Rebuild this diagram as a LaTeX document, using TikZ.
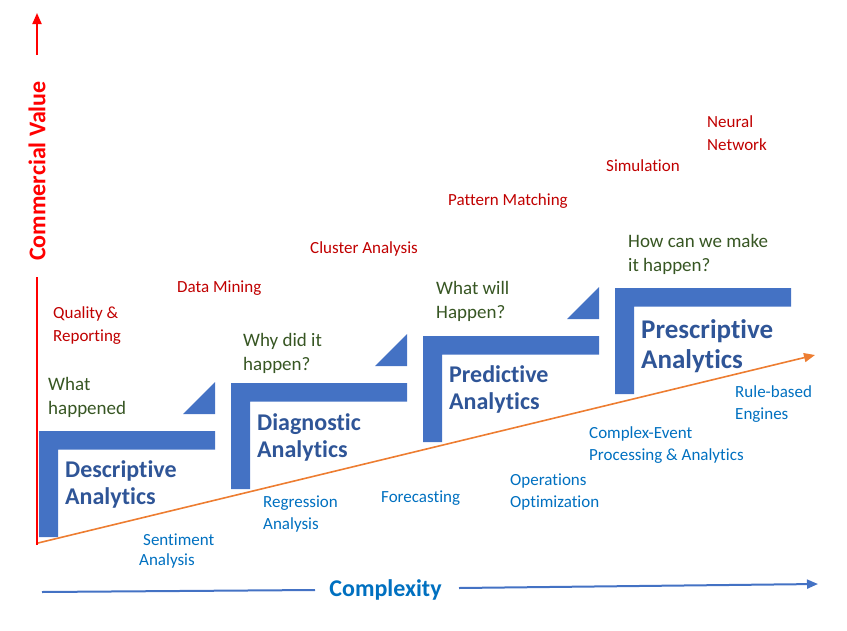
\documentclass[tikz,border=0pt]{standalone}
\usepackage{fontspec}
\setmainfont{Carlito}[Ligatures={NoCommon,NoRequired,NoContextual}]
\usetikzlibrary{arrows.meta}
\definecolor{barblue}{HTML}{4472C4}
\definecolor{titleblue}{HTML}{2F5597}
\definecolor{lblblue}{HTML}{0070C0}
\definecolor{redtxt}{HTML}{C00000}
\definecolor{greentxt}{HTML}{375623}
\definecolor{orangeln}{HTML}{ED7D31}
\definecolor{axisred}{HTML}{FF0000}
\tikzset{
  txt/.style={inner sep=0pt, anchor=west, align=left},
  question/.style={txt, text=greentxt, font=\fontsize{19}{24}\selectfont},
  title/.style={txt, text=titleblue, font=\fontsize{24}{27}\selectfont\bfseries},
  bigtitle/.style={txt, text=titleblue, font=\fontsize{27}{30}\selectfont\bfseries},
  redlbl/.style={txt, text=redtxt, font=\fontsize{17}{23}\selectfont},
  bluelbl/.style={txt, text=lblblue, font=\fontsize{17}{22}\selectfont},
  stepfill/.style={fill=barblue, draw=none},
  redaxis/.style={draw=axisred, line width=2pt},
  blueaxis/.style={draw=barblue, line width=2pt},
}
\begin{document}
\begin{tikzpicture}[x=1pt,y=-1pt]
\useasboundingbox (0,0) rectangle (847,630);
% steps
\foreach \ox/\oy in {39/431, 231/383, 423/336, 615/288}{
  \fill[stepfill] (\ox,\oy) -- ++(176,0) -- ++(0,18.5) -- ++(-157,0) -- ++(0,87.5) -- ++(-19,0) -- cycle;
}
\foreach \ox/\oy in {39/431, 231/383, 423/336}{
  \fill[stepfill] (\ox+144,\oy-17) -- (\ox+176,\oy-17) -- (\ox+176,\oy-49) -- cycle;
}
% orange trend
\coordinate (o1) at (38,543);
\coordinate (o2) at (815,355);
\draw[draw=orangeln, line width=1.6pt, -{Triangle[length=11pt,width=9pt]}] (o1) -- (o2);
% red axis
\coordinate (r1) at (36.5,545);
\coordinate (r2) at (36.5,277);
\coordinate (r3) at (37,55);
\coordinate (r4) at (37,13);
\draw[redaxis] (r1) -- (r2);
\draw[redaxis, -{Triangle[length=11pt,width=9pt]}] (r3) -- (r4);
\node[rotate=90, inner sep=0pt, text=axisred, font=\fontsize{24}{28}\selectfont\bfseries] (cv) at (37,171) {Commercial Value};
% blue axis
\coordinate (b1) at (42,592);
\coordinate (b2) at (315,590);
\coordinate (b3) at (459,588);
\coordinate (b4) at (818,584);
\draw[blueaxis] (b1) -- (b2);
\draw[blueaxis, -{Triangle[length=11pt,width=9pt]}] (b3) -- (b4);
\node[inner sep=0pt, text=lblblue, font=\fontsize{24}{27}\selectfont\bfseries] (cx) at (385.5,589.5) {Complexity};
% questions
\node[question] (q1) at (48,397) {What\\happened};
\node[question] (q2) at (243,353) {Why did it\\happen?};
\node[question] (q3) at (436,301) {What will\\Happen?};
\node[question] (q4) at (628,254) {How can we make\\it happen?};
% titles
\node[title] (t1) at (65,484) {Descriptive\\Analytics};
\node[title] (t2) at (257,437) {Diagnostic\\Analytics};
\node[title] (t3) at (449,389) {Predictive\\Analytics};
\node[bigtitle] (t4) at (641,346) {Prescriptive\\Analytics};
% red labels
\node[redlbl] (l1) at (53,326) {Quality \&\\Reporting};
\node[redlbl] (l2) at (177,288.5) {Data Mining};
\node[redlbl] (l3) at (310,248.5) {Cluster Analysis};
\node[redlbl] (l4) at (448,201.5) {Pattern Matching};
\node[redlbl] (l5) at (606,165.5) {Simulation};
\node[redlbl] (l6) at (707,133) {Neural\\Network};
% blue labels
\node[bluelbl] (s1a) at (143,539.5) {Sentiment};
\node[bluelbl] (s1b) at (139,560.5) {Analysis};
\node[bluelbl] (s2) at (263,514.5) {Regression\\Analysis};
\node[bluelbl] (s3) at (381,498.5) {Forecasting};
\node[bluelbl] (s4) at (510,492) {Operations\\Optimization};
\node[bluelbl] (s5) at (589,445) {Complex-Event\\Processing \& Analytics};
\node[bluelbl] (s6) at (735,404.5) {Rule-based\\Engines};
\end{tikzpicture}
\end{document}
